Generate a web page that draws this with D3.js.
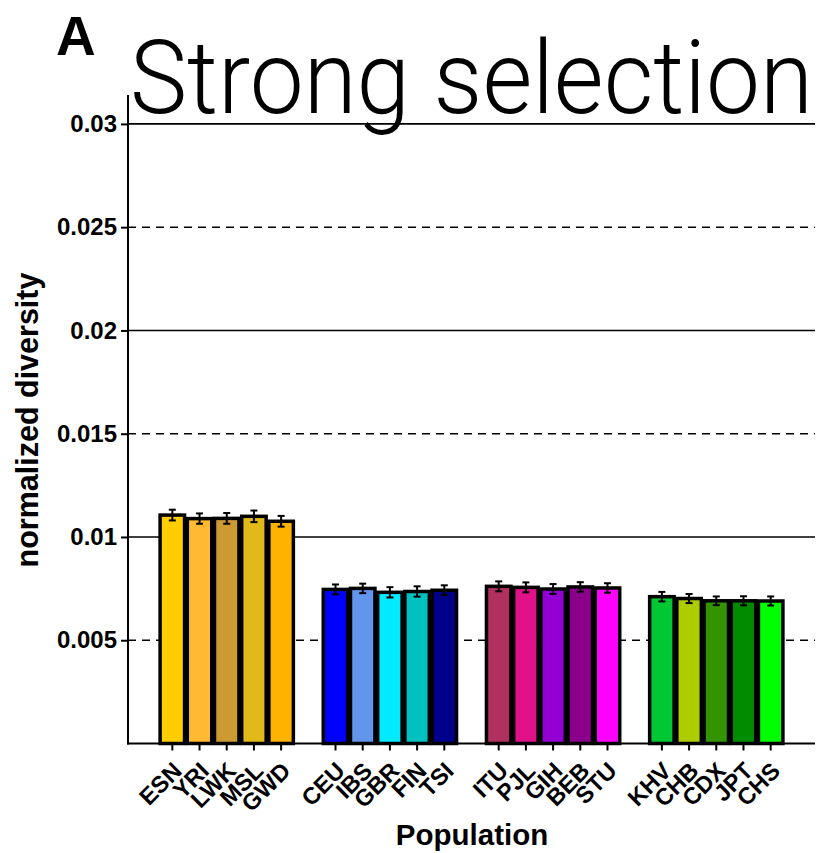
<!DOCTYPE html>
<html><head><meta charset="utf-8">
<script src="https://cdn.jsdelivr.net/npm/d3@7"></script>
<style>body{margin:0;background:#fff}</style>
</head><body>
<svg id="chart" width="821" height="853"></svg>
<script>
// ---- data ----
const groups = [
  ["ESN","YRI","LWK","MSL","GWD"],
  ["CEU","IBS","GBR","FIN","TSI"],
  ["ITU","PJL","GIH","BEB","STU"],
  ["KHV","CHB","CDX","JPT","CHS"]
];
const populations = ["ESN","YRI","LWK","MSL","GWD","CEU","IBS","GBR","FIN","TSI","ITU","PJL","GIH","BEB","STU","KHV","CHB","CDX","JPT","CHS"];
const diversity = [0.01106,0.01089,0.01090,0.01100,0.01076, 0.00746,0.00751,0.00732,0.00736,0.00742, 0.00761,0.00756,0.00748,0.00758,0.00753, 0.00711,0.00702,0.00691,0.00691,0.00690];
const errors = [0.00026,0.00025,0.00026,0.00028,0.00026, 0.00024,0.00023,0.00025,0.00025,0.00024, 0.00024,0.00024,0.00024,0.00023,0.00023, 0.00023,0.00022,0.00021,0.00022,0.00022];
const colors = ["#FFCD00","#FFB933","#CC9933","#E1B919","#FFB300", "#0000FF","#6495ED","#00EBFF","#00C0C0","#00008B", "#B03060","#E11289","#9400D3","#8B008B","#FF00FF", "#00C832","#ADCD00","#339400","#008B00","#00FF00"];
const yTicks = [0.005,0.01,0.015,0.02,0.025,0.03];
const yTickLabels = ["0.005","0.01","0.015","0.02","0.025","0.03"];
const dashedTicks = [0.005,0.015,0.025];

// ---- layout ----
const svg = d3.select("#chart");
const pLeft = 128, pRight = 815, pTop = 95, pBottom = 743.5;
const slots = [];
groups.forEach((g,i)=>{ if(i>0) slots.push("_gap"+i); g.forEach(p=>slots.push(p)); });
const x = d3.scaleBand().domain(slots).range([pLeft,pRight]).paddingInner(0.1).paddingOuter(1.18);
const y = d3.scaleLinear().domain([0,0.0314]).range([pBottom,pTop]);
const data = populations.map((p,i)=>({pop:p,v:diversity[i],e:errors[i],c:colors[i]}));

// gridlines
svg.append("g").selectAll("line").data(yTicks).join("line")
  .attr("x1",pLeft).attr("x2",pRight)
  .attr("y1",d=>y(d)).attr("y2",d=>y(d))
  .attr("stroke","#000").attr("stroke-width",1.6)
  .attr("stroke-dasharray",d=>dashedTicks.includes(d)?"8,6":null);

// bars
svg.append("g").selectAll("rect").data(data).join("rect")
  .attr("x",d=>x(d.pop)).attr("width",x.bandwidth())
  .attr("y",d=>y(d.v)).attr("height",d=>pBottom-y(d.v))
  .attr("fill",d=>d.c).attr("stroke","#000").attr("stroke-width",3.5);

// error bars
const eb = svg.append("g").attr("stroke","#000").attr("stroke-width",2);
eb.selectAll("line.v").data(data).join("line").attr("class","v")
  .attr("x1",d=>x(d.pop)+x.bandwidth()/2).attr("x2",d=>x(d.pop)+x.bandwidth()/2)
  .attr("y1",d=>y(d.v-d.e)).attr("y2",d=>y(d.v+d.e));
["t","b"].forEach(k=>{
  eb.selectAll("line."+k).data(data).join("line").attr("class",k)
    .attr("x1",d=>x(d.pop)+x.bandwidth()/2-3.5).attr("x2",d=>x(d.pop)+x.bandwidth()/2+3.5)
    .attr("y1",d=>y(k==="t"?d.v+d.e:d.v-d.e)).attr("y2",d=>y(k==="t"?d.v+d.e:d.v-d.e));
});

// axes lines
svg.append("line").attr("x1",pLeft).attr("x2",pLeft).attr("y1",pTop).attr("y2",pBottom+1)
  .attr("stroke","#000").attr("stroke-width",2);
svg.append("line").attr("x1",pLeft-1).attr("x2",pRight).attr("y1",pBottom).attr("y2",pBottom)
  .attr("stroke","#000").attr("stroke-width",2);

// y axis ticks & labels
const yAxis = d3.axisLeft(y).tickValues(yTicks).tickFormat((d,i)=>yTickLabels[i]).tickSize(7).tickPadding(4);
const ya = svg.append("g").attr("transform",`translate(${pLeft},0)`).call(yAxis);
ya.select(".domain").remove();
ya.selectAll("line").attr("stroke","#000").attr("stroke-width",2);
ya.selectAll("text").attr("font-family","Liberation Sans, Arial, sans-serif")
  .attr("font-weight","bold").attr("font-size",24).attr("fill","#000");

// x axis ticks & labels
const xAxis = d3.axisBottom(x).tickValues(populations).tickSize(7).tickFormat(d=>d);
const xa = svg.append("g").attr("transform",`translate(0,${pBottom})`).call(xAxis);
xa.select(".domain").remove();
xa.selectAll("line").attr("stroke","#000").attr("stroke-width",2);
xa.selectAll("text").attr("font-family","Liberation Sans, Arial, sans-serif")
  .attr("font-weight","bold").attr("font-size",23.5).attr("fill","#000")
  .attr("text-anchor","end").attr("y",0).attr("dy","0.35em")
  .attr("transform","translate(5,23) rotate(-45)");

// titles
svg.append("text").attr("x",472).attr("y",845).attr("text-anchor","middle")
  .attr("font-family","Liberation Sans, Arial, sans-serif").attr("font-weight","bold")
  .attr("font-size",29.5).text("Population");
svg.append("text").attr("transform","translate(38,420) rotate(-90)").attr("text-anchor","middle")
  .attr("font-family","Liberation Sans, Arial, sans-serif").attr("font-weight","bold")
  .attr("font-size",30.5).text("normalized diversity");
svg.append("text").attr("x",56).attr("y",55)
  .attr("font-family","Liberation Sans, Arial, sans-serif").attr("font-weight","bold")
  .attr("font-size",55).text("A");
svg.append("text").attr("x",130).attr("y",113)
  .attr("font-family","Roboto, sans-serif").attr("font-weight",300)
  .attr("font-size",102).attr("textLength",683).attr("lengthAdjust","spacingAndGlyphs")
  .text("Strong selection");
</script>
</body></html>
